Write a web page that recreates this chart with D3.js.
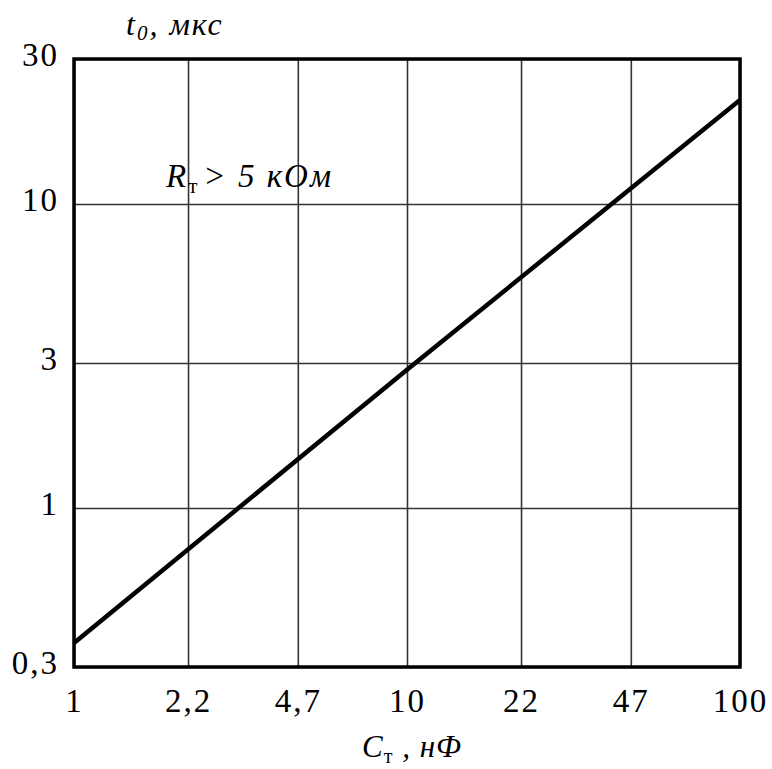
<!DOCTYPE html>
<html>
<head>
<meta charset="utf-8">
<script src="https://cdn.jsdelivr.net/npm/d3@7/dist/d3.min.js"></script>
<style>
body { margin: 0; background: #fff; }
.grid line { stroke: #333; stroke-width: 1.6; }
.label { font-family: "Liberation Serif", "DejaVu Serif", serif; font-style: italic; fill: #000; }
</style>
</head>
<body>
<div id="chart"></div>
<script>
// ticks of both axes (log scales)
var capTicks = [1, 2.2, 4.7, 10, 22, 47, 100];
var timeTicks = [0.3, 1, 3, 10, 30];

// the curve
var capValues = [1, 10, 100];
var timeValues = [0.36, 2.85, 22];

function comma(d) {
	return String(d).replace(".", ",");
}

function draw_chart(width, height) {

	var svg = d3.select("#chart").append("svg")
		.attr("width", width)
		.attr("height", height);

	var margin = { top: 59, right: 32, bottom: 102, left: 74 };
	var chartWidth = width - margin.left - margin.right;
	var chartHeight = height - margin.top - margin.bottom;

	var panel = svg.append("g")
		.attr("transform", "translate(" + margin.left + "," + margin.top + ")");

	var xScale = d3.scaleLog()
		.domain([1, 100])
		.range([0, chartWidth]);

	var yScale = d3.scaleLog()
		.domain([0.3, 30])
		.range([chartHeight, 0]);

	//grid
	panel.append("g")
		.attr("class", "grid")
		.call(d3.axisBottom(xScale).tickValues(capTicks).tickSize(chartHeight).tickFormat(""))
		.call(function(g) { g.select(".domain").remove(); });

	panel.append("g")
		.attr("class", "grid")
		.call(d3.axisRight(yScale).tickValues(timeTicks).tickSize(chartWidth).tickFormat(""))
		.call(function(g) { g.select(".domain").remove(); });

	//frame
	panel.append("rect")
		.attr("width", chartWidth)
		.attr("height", chartHeight)
		.attr("fill", "none")
		.attr("stroke", "#000")
		.attr("stroke-width", 3.5);

	//tick labels
	panel.append("g")
		.attr("transform", "translate(0," + chartHeight + ")")
		.call(d3.axisBottom(xScale).tickValues(capTicks).tickSize(0).tickPadding(22).tickFormat(comma))
		.call(function(g) { g.select(".domain").remove(); })
		.selectAll("text")
		.style("font-family", "'Liberation Serif', serif")
		.style("font-size", "33px")
		.style("letter-spacing", "2px")
		.attr("fill", "#000");

	panel.append("g")
		.call(d3.axisLeft(yScale).tickValues(timeTicks).tickSize(0).tickPadding(15).tickFormat(comma))
		.call(function(g) { g.select(".domain").remove(); })
		.selectAll("text")
		.attr("dy", "0.2em")
		.style("font-family", "'Liberation Serif', serif")
		.style("font-size", "33px")
		.style("letter-spacing", "2px")
		.attr("fill", "#000");

	//the curve
	var points = capValues.map(function(c, i) { return { c: c, t: timeValues[i] }; });

	var line = d3.line()
		.x(function(d) { return xScale(d.c); })
		.y(function(d) { return yScale(d.t); });

	panel.append("path")
		.datum(points)
		.attr("d", line)
		.attr("fill", "none")
		.attr("stroke", "#000")
		.attr("stroke-width", 4.5);

	//axis names
	var yName = svg.append("text")
		.attr("class", "label")
		.attr("x", 126)
		.attr("y", 35)
		.style("font-size", "32px")
		.style("letter-spacing", "2px");
	yName.append("tspan").text("t");
	yName.append("tspan").attr("dy", 5).style("font-size", "21px").text("0");
	yName.append("tspan").attr("dy", -5).text(", мкс");

	var xName = svg.append("text")
		.attr("class", "label")
		.attr("x", 362)
		.attr("y", 757)
		.style("font-size", "31px")
		.style("letter-spacing", "1px");
	xName.append("tspan").text("C");
	xName.append("tspan").attr("dy", 6).style("font-size", "20px").style("font-style", "normal").text("т");
	xName.append("tspan").attr("dy", -6).text(" , нФ");

	//note inside the plot
	var note = svg.append("text")
		.attr("class", "label")
		.attr("x", 166)
		.attr("y", 187)
		.style("font-size", "33px")
		.style("letter-spacing", "2px");
	note.append("tspan").text("R");
	note.append("tspan").attr("dy", 6).style("font-size", "21px").style("font-style", "normal").text("т");
	note.append("tspan").attr("dy", -6).attr("dx", 4).text("> 5 кОм");
}

draw_chart(772, 769);
</script>
</body>
</html>
